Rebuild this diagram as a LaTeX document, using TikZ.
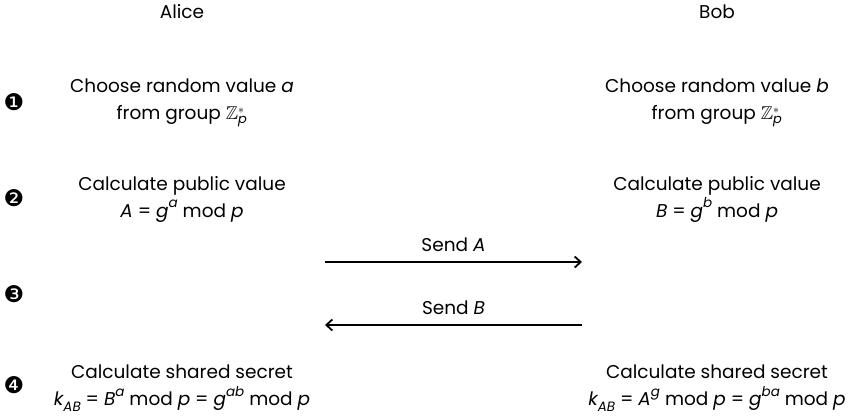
\documentclass[tikz,border=0pt]{standalone}
\usepackage{amsmath,amssymb}
\usepackage{fontspec}
\setmainfont{Poppins}
\newfontfamily\dingfont{DejaVu Sans}
\usetikzlibrary{arrows.meta}
\newcommand{\vr}[1]{{\itshape #1}}
\newcommand{\sps}[1]{\raisebox{0.5em}{\fontsize{13.5bp}{14bp}\selectfont\itshape #1}}
\newcommand{\sbs}[1]{\raisebox{-0.3em}{\fontsize{13.5bp}{14bp}\selectfont\itshape #1}}
\newcommand{\Zp}{$\mathbb{Z}_{\text{\itshape p}}^{*}$}
\begin{document}
\begin{tikzpicture}[x=1bp,y=-1bp,
  txt/.style={align=center,inner sep=0pt,font=\fontsize{18.5bp}{27bp}\selectfont},
  num/.style={inner sep=0pt,font=\dingfont\fontsize{23bp}{25bp}\selectfont},
  msg/.style={line width=1.8bp,-{Straight Barb[length=6bp,width=11bp,line width=1.8bp]}}]
\useasboundingbox (0,0) rectangle (855,415);
\node[txt] (alice) at (182,12) {Alice};
\node[txt] (bob) at (717,12) {Bob};
\node[num] (n1) at (14,102) {❶};
\node[num] (n2) at (14,198) {❷};
\node[num] (n3) at (14,294) {❸};
\node[num] (n4) at (14,385) {❹};
\node[txt] (a1) at (182,103) {Choose random value \vr{a}\\from group \Zp};
\node[txt] (b1) at (717,103) {Choose random value \vr{b}\\from group \Zp};
\node[txt] (a2) at (182,199) {Calculate public value\\\vr{A} = \vr{g}\sps{a} mod \vr{p}};
\node[txt] (b2) at (717,199) {Calculate public value\\\vr{B} = \vr{g}\sps{b} mod \vr{p}};
\node[txt] (a4) at (182,388) {Calculate shared secret\\\vr{k}\sbs{AB} = \vr{B}\sps{a} mod \vr{p} = \vr{g}\sps{ab} mod \vr{p}};
\node[txt] (b4) at (717,388) {Calculate shared secret\\\vr{k}\sbs{AB} = \vr{A}\sps{g} mod \vr{p} = \vr{g}\sps{ba} mod \vr{p}};
\coordinate (sL1) at (325,262);
\coordinate (sR1) at (582,262);
\coordinate (sL2) at (325,325);
\coordinate (sR2) at (582,325);
\draw[msg] (sL1) -- node[txt,above=9bp] (sa) {Send \vr{A}} (sR1);
\draw[msg] (sR2) -- node[txt,above=9bp] (sb) {Send \vr{B}} (sL2);
\end{tikzpicture}
\end{document}
